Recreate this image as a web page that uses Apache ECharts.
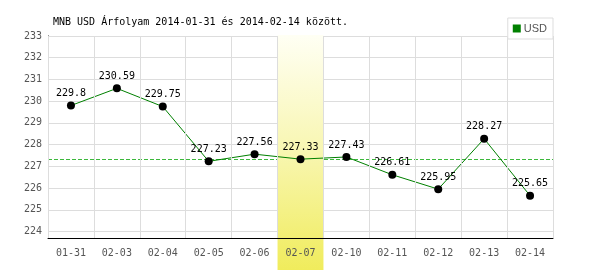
<!DOCTYPE html>
<html><head><meta charset="utf-8">
<script src="https://cdn.jsdelivr.net/npm/echarts@6/dist/echarts.min.js"></script>
<style>html,body{margin:0;padding:0;background:#fff}#c{width:600px;height:270px}</style>
</head><body><div id="c"></div>
<script>
const titleText = 'MNB USD Árfolyam 2014-01-31 és 2014-02-14 között.';
const categories = ['01-31','02-03','02-04','02-05','02-06','02-07','02-10','02-11','02-12','02-13','02-14'];
const usdValues = [229.8,230.59,229.75,227.23,227.56,227.33,227.43,226.61,225.95,228.27,225.65];
const yTickValues = [224,225,226,227,228,229,230,231,232,233];
const highlightCategory = '02-07';
const referenceValue = 227.33;
const yMin = 223.7, yMax = 233;

const mono = '"DejaVu Sans Mono", "Liberation Mono", monospace';
const refColor = '#3cb83c';
const chart = echarts.init(document.getElementById('c'), null, {renderer:'canvas'});
const option = {
  animation: false,
  backgroundColor: '#ffffff',
  title: { text: titleText, left: 48, top: 12, textStyle: { fontFamily: mono, fontSize: 10, fontWeight: 'normal', color: '#000' } },
  legend: { data: [{ name: 'USD', itemStyle: { color: '#008000' } }], right: 47, top: 18, icon: 'rect', itemWidth: 8, itemHeight: 8, itemGap: 4,
    padding: [5,6,5,5], borderColor: '#dddddd', borderWidth: 1, backgroundColor: '#fff',
    textStyle: { fontFamily: '"Liberation Sans", Arial, sans-serif', fontSize: 11, color: '#555', padding:[0,0,0,-2] } },
  grid: { left: 48, right: 47, top: 36, bottom: 32, containLabel: false },
  xAxis: {
    type: 'category', data: categories, boundaryGap: true, z: 3,
    axisLine: { lineStyle: { color: '#000', width: 1 } },
    axisTick: { show: false },
    axisLabel: { fontFamily: mono, fontSize: 10, color: '#555', margin: 10 },
    splitLine: { show: true, lineStyle: { color: '#dddddd', width: 1 } }
  },
  yAxis: {
    type: 'value', min: yMin, max: yMax,
    axisLine: { show: true, lineStyle: { color: '#000', width: 1 } },
    axisTick: { show: false, customValues: yTickValues },
    axisLabel: { fontFamily: mono, fontSize: 10, color: '#555', margin: 6, customValues: yTickValues },
    splitLine: { show: true, lineStyle: { color: '#dddddd', width: 1 } }
  },
  series: [{
    name: 'USD', type: 'line', data: usdValues, z: 2,
    itemStyle: { color: '#000' },
    lineStyle: { color: '#008000', width: 1 },
    symbol: 'circle', symbolSize: 8,
    emphasis: { disabled: true },
    label: { show: true, position: 'top', distance: 3, fontFamily: mono, fontSize: 10, color: '#000' },
    markLine: { silent: true, z: 1, symbol: ['none','none'], label: { show: false },
      lineStyle: { color: refColor, type: 'dashed', width: 1 },
      data: [{ yAxis: referenceValue }] }
  }]
};
chart.setOption(option);

const idx = categories.indexOf(highlightCategory);
const cx = chart.convertToPixel({ xAxisIndex: 0 }, idx);
const bw = chart.convertToPixel({ xAxisIndex: 0 }, 1) - chart.convertToPixel({ xAxisIndex: 0 }, 0);
const topY = chart.convertToPixel({ yAxisIndex: 0 }, yMax);
const H = chart.getHeight();
chart.setOption({ graphic: [{ type: 'rect', z: 1, silent: true,
  shape: { x: cx - bw / 2, y: topY - 1, width: bw, height: H - topY + 1 },
  style: { fill: new echarts.graphic.LinearGradient(0, 0, 0, 1, [
    { offset: 0, color: '#fffff4' }, { offset: 0.5, color: '#f8f6b0' }, { offset: 1, color: '#f0ec5c' }]) } }] });
</script></body></html>
